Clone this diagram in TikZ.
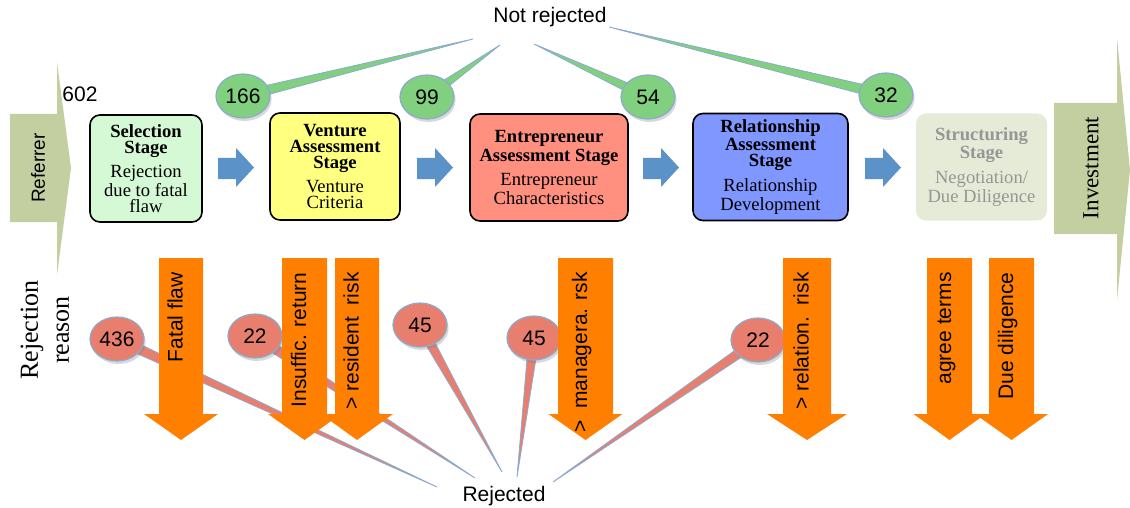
\documentclass[tikz,border=0pt]{standalone}
\usepackage{fontspec}
\setmainfont{Liberation Serif}
\setsansfont{Liberation Sans}
\usetikzlibrary{positioning,shapes.geometric,calc,backgrounds,shadows}
\definecolor{refgreen}{RGB}{195,207,161}
\definecolor{selgreen}{RGB}{213,249,212}
\definecolor{ventyellow}{RGB}{255,255,128}
\definecolor{entsalmon}{RGB}{255,143,127}
\definecolor{relblue}{RGB}{128,151,255}
\definecolor{strucfill}{RGB}{230,235,215}
\definecolor{structext}{RGB}{150,150,150}
\definecolor{stepblue}{RGB}{91,147,201}
\definecolor{rejorange}{RGB}{255,128,0}
\definecolor{okgreen}{RGB}{128,208,128}
\definecolor{rejred}{RGB}{232,127,110}
\definecolor{bubbleedge}{RGB}{140,170,205}

\newcommand{\stagefont}{\fontsize{9.3}{8}\selectfont}
\newcommand{\countfont}{\sffamily\fontsize{10.5}{12}\selectfont}

% blue step arrow, #1 = left end
\newcommand{\stagearrow}[1]{%
  \fill[stepblue] (#1,158) -- (#1+18,158) -- (#1+18,148) -- (#1+36,167.5)
    -- (#1+18,187) -- (#1+18,179) -- (#1,179) -- cycle;}
% orange rejection arrow: name, centre x, half shaft, half head, label
\newcommand{\rejarrow}[5]{%
  \fill[rejorange] (#2-#3,258) -- (#2+#3,258) -- (#2+#3,414) -- (#2+#4,414)
    -- (#2,440) -- (#2-#4,414) -- (#2-#3,414) -- cycle;
  \node[rejlabel] (#1) at (#2-4,272) {#5};}
% callout tail from bubble #1 to point #2
\newcommand{\calltail}[3]{%
  \filldraw[fill=#3,draw=bubbleedge,line width=0.4pt]
    ($(#1)!2.6pt!90:(#2)$) -- (#2) -- ($(#1)!2.6pt!-90:(#2)$) -- cycle;}

\begin{document}
\begin{tikzpicture}[x=0.5pt,y=-0.5pt,
    stagebox/.style={draw=black,line width=0.8pt,rounded corners=5pt,
      minimum height=53.5pt,inner sep=1pt,align=center,font=\stagefont},
    okbubble/.style={ellipse,fill=okgreen,draw=bubbleedge,line width=0.6pt,
      inner sep=0pt,minimum width=27pt,minimum height=22pt,font=\countfont,
      drop shadow={shadow xshift=0.8pt,shadow yshift=-1.5pt,opacity=0.3}},
    rejbubble/.style={okbubble,fill=rejred},
    rejlabel/.style={rotate=90,anchor=east,inner sep=0pt,font=\countfont,
      text height=7.5pt,text depth=2pt},
    sidelabel/.style={rotate=90,inner sep=0pt,align=center}]
  \useasboundingbox (0,0) rectangle (1130,508);

  % entry and exit arrows
  \fill[refgreen] (10,114) -- (57,114) -- (57,62) -- (71,168) -- (57,275)
    -- (57,222) -- (10,222) -- cycle;
  \node[sidelabel,font=\sffamily\fontsize{9.5}{11}\selectfont] (referrer) at (38,168) {Referrer};
  \fill[refgreen] (1054,103) -- (1117,103) -- (1117,38) -- (1130,170)
    -- (1117,300) -- (1117,234) -- (1054,234) -- cycle;
  \node[sidelabel,font=\fontsize{11.5}{13}\selectfont] (invest) at (1091,168) {Investment};
  \node[font=\countfont] (total) at (80,94) {602};

  % stages
  \node[stagebox,fill=selgreen,minimum width=56pt] (selection) at (146,168.5)
    {\textbf{Selection}\\\textbf{Stage}\\[3pt]Rejection\\due to fatal\\flaw};
  \node[stagebox,fill=ventyellow,minimum width=65pt] (venture) at (335,166.5)
    {\textbf{Venture}\\\textbf{Assessment}\\\textbf{Stage}\\[3pt]Venture\\Criteria};
  \node[stagebox,fill=entsalmon,minimum width=79pt] (entrep) at (549,167.5)
    {\textbf{Entrepreneur}\\\textbf{Assessment Stage}\\[3pt]Entrepreneur\\Characteristics};
  \node[stagebox,fill=relblue,minimum width=77.5pt] (relation) at (770.5,167)
    {\textbf{Relationship}\\\textbf{Assessment}\\\textbf{Stage}\\[3pt]Relationship\\Development};
  \node[stagebox,draw=none,fill=strucfill,text=structext,minimum width=65.5pt] (struct) at (981.5,167)
    {\textbf{Structuring}\\\textbf{Stage}\\[3pt]Negotiation/\\Due Diligence};
  \stagearrow{218}
  \stagearrow{417}
  \stagearrow{643}
  \stagearrow{865}

  % not rejected counts
  \node[font=\countfont] (notrej) at (550,17) {Not rejected};
  \coordinate (okend1) at (473,39);
  \coordinate (okend2) at (500,45);
  \coordinate (okend3) at (534,44);
  \coordinate (okend4) at (609,27);
  \node[okbubble] (ok166) at (243,96) {166};
  \node[okbubble] (ok99) at (427,97) {99};
  \node[okbubble] (ok54) at (648,97) {54};
  \node[okbubble] (ok32) at (886,95) {32};

  % rejected counts
  \node[sidelabel,font=\fontsize{13}{15.5}\selectfont] (reason) at (45,330) {Rejection\\reason};
  \node[font=\countfont] (rejected) at (504,496) {Rejected};
  \coordinate (rjend1) at (437,487);
  \coordinate (rjend2) at (475,478);
  \coordinate (rjend3) at (502,472);
  \coordinate (rjend4) at (517,477);
  \coordinate (rjend5) at (553,482);
  \node[rejbubble] (rj436) at (117,339) {436};
  \node[rejbubble] (rj22a) at (255,336) {22};
  \node[rejbubble] (rj45a) at (420,325) {45};
  \node[rejbubble] (rj45b) at (534,338) {45};
  \node[rejbubble] (rj22b) at (758,340) {22};

  \begin{scope}[on background layer]
    \calltail{ok166}{okend1}{okgreen}
    \calltail{ok99}{okend2}{okgreen}
    \calltail{ok54}{okend3}{okgreen}
    \calltail{ok32}{okend4}{okgreen}
    \calltail{rj436}{rjend1}{rejred}
    \calltail{rj22a}{rjend2}{rejred}
    \calltail{rj45a}{rjend3}{rejred}
    \calltail{rj45b}{rjend4}{rejred}
    \calltail{rj22b}{rjend5}{rejred}
  \end{scope}

  % rejection reasons
  \rejarrow{fatal}{181}{22}{37}{Fatal flaw}
  \rejarrow{insuff}{304.5}{22.5}{36.5}{Insuffic. return}
  \rejarrow{resid}{357}{22}{36}{> resident~~risk}
  \rejarrow{manag}{585.5}{27.5}{37}{>~~managera. rsk}
  \rejarrow{relrisk}{807}{24}{40}{> relation.~~risk}
  \rejarrow{terms}{949.5}{22.5}{36}{agree terms}
  \rejarrow{dilig}{1011.5}{22.5}{36.5}{Due diligence}
\end{tikzpicture}
\end{document}
